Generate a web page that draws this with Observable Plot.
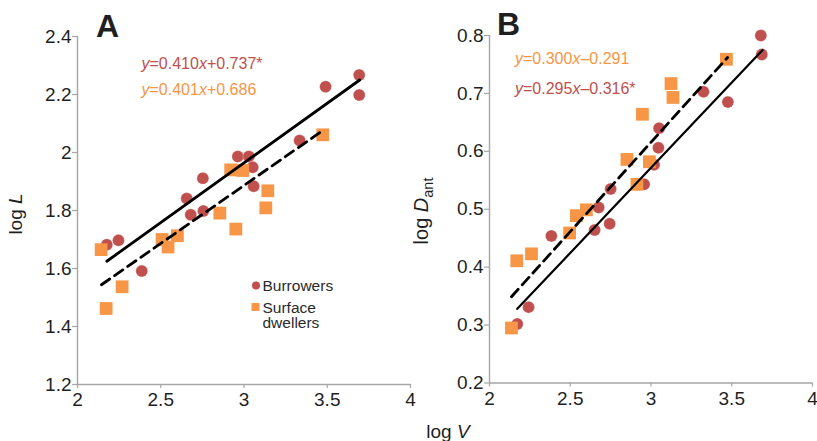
<!DOCTYPE html>
<html>
<head>
<meta charset="utf-8">
<script src="https://cdn.jsdelivr.net/npm/d3@7"></script>
<script src="https://cdn.jsdelivr.net/npm/@observablehq/plot@0.6"></script>
<style>
  html, body { margin: 0; padding: 0; background: #fff; }
  #wrap { position: relative; width: 817px; height: 441px; overflow: hidden; font-family: "Liberation Sans", Arial, sans-serif; }
  #pa, #pb { position: absolute; top: 0; }
  #pa { left: 0; }
  #pb { left: 420px; }
  #ann { position: absolute; left: 0; top: 0; pointer-events: none; }
</style>
</head>
<body>
<div id="wrap">
  <div id="pa"></div>
  <div id="pb"></div>
  <svg id="ann" width="817" height="441" font-family="Liberation Sans, Arial, sans-serif"></svg>
</div>
<script>
// ---------- Panel A data (log V vs log L) ----------
const aBurV = [3.692, 3.490, 3.692, 3.334, 2.963, 3.029, 3.052, 2.753, 3.058, 2.656, 2.680, 2.756, 2.176, 2.246, 2.386];
const aBurL = [2.267, 2.227, 2.198, 2.041, 1.986, 1.986, 1.949, 1.911, 1.884, 1.841, 1.785, 1.798, 1.682, 1.697, 1.591];
const aSurV = [3.473, 2.920, 2.993, 3.143, 3.131, 2.855, 2.951, 2.142, 2.508, 2.544, 2.600, 2.268, 2.172];
const aSurL = [2.061, 1.940, 1.938, 1.868, 1.809, 1.791, 1.736, 1.665, 1.700, 1.674, 1.713, 1.537, 1.462];
const aBurFitV = [2.176, 3.695];
const aBurFitL = [1.625, 2.250];
const aSurFitV = [2.144, 3.479];
const aSurFitL = [1.544, 2.078];
const aTicksX = [2, 2.5, 3, 3.5, 4];
const aTicksY = [1.2, 1.4, 1.6, 1.8, 2, 2.2, 2.4];

// ---------- Panel B data (log V vs log D_ant) ----------
const bBurV = [3.680, 3.686, 3.325, 3.476, 3.050, 3.046, 3.019, 2.957, 2.750, 2.676, 2.651, 2.744, 2.383, 2.242, 2.172];
const bBurD = [0.800, 0.767, 0.703, 0.685, 0.640, 0.606, 0.577, 0.543, 0.535, 0.503, 0.464, 0.475, 0.454, 0.331, 0.302];
const bSurV = [3.467, 3.124, 3.136, 2.947, 2.851, 2.990, 2.913, 2.600, 2.538, 2.496, 2.260, 2.169, 2.136];
const bSurD = [0.759, 0.717, 0.693, 0.664, 0.586, 0.582, 0.543, 0.499, 0.489, 0.459, 0.423, 0.411, 0.295];
const bBurFitV = [2.172, 3.691];
const bBurFitD = [0.328, 0.775];
const bSurFitV = [2.136, 3.474];
const bSurFitD = [0.349, 0.762];
const bTicksX = [2, 2.5, 3, 3.5, 4];
const bTicksY = [0.2, 0.3, 0.4, 0.5, 0.6, 0.7, 0.8];

const RED = "#c0504d", ORANGE = "#f79646", AXIS = "#a6a6a6", INK = "#1f1f1f";
const FONT = "Liberation Sans, Arial, sans-serif";

function panel({width, mL, mR, mT, mB, yDomain, ticksX, ticksY, bur, sur, burFit, surFit, burW, surW}) {
  return Plot.plot({
    width, height: 441,
    marginLeft: mL, marginRight: mR, marginTop: mT, marginBottom: mB,
    x: {domain: [2, 4]},
    y: {domain: yDomain},
    style: {fontFamily: FONT, fontSize: "19px", background: "transparent", color: INK, overflow: "visible"},
    marks: [
      Plot.ruleX([2], {stroke: AXIS, strokeWidth: 1.4}),
      Plot.ruleY([yDomain[0]], {stroke: AXIS, strokeWidth: 1.4}),
      Plot.axisX({ticks: ticksX, tickFormat: d => String(d), tickSize: 4, tickPadding: 4, stroke: AXIS, fill: INK, label: null, strokeWidth: 1.2}),
      Plot.axisY({ticks: ticksY, tickFormat: d => String(d), tickSize: 5, tickPadding: 1, stroke: AXIS, fill: INK, label: null, strokeWidth: 1.2}),
      Plot.dot(bur[0], {x: bur[0], y: bur[1], r: 6, fill: RED, stroke: "#fff", strokeOpacity: 0.35, strokeWidth: 0.8}),
      Plot.dot(sur[0], {x: sur[0], y: sur[1], r: 7.2, symbol: "square", fill: ORANGE}),
      Plot.line(surFit[0], {x: surFit[0], y: surFit[1], stroke: "#000", strokeWidth: surW, strokeDasharray: "10,6"}),
      Plot.line(burFit[0], {x: burFit[0], y: burFit[1], stroke: "#000", strokeWidth: burW})
    ]
  });
}

document.getElementById("pa").append(panel({
  width: 420, mL: 77, mR: 10, mT: 36, mB: 57, yDomain: [1.2, 2.4],
  ticksX: aTicksX, ticksY: aTicksY,
  bur: [aBurV, aBurL], sur: [aSurV, aSurL],
  burFit: [aBurFitV, aBurFitL], surFit: [aSurFitV, aSurFitL], burW: 2.8, surW: 2.8
}));

document.getElementById("pb").append(panel({
  width: 397, mL: 69, mR: 5, mT: 35, mB: 58.5, yDomain: [0.2, 0.8],
  ticksX: bTicksX, ticksY: bTicksY,
  bur: [bBurV, bBurD], sur: [bSurV, bSurD],
  burFit: [bBurFitV, bBurFitD], surFit: [bSurFitV, bSurFitD], burW: 2.2, surW: 2.8
}));

// ---------- Annotations ----------
const ann = document.getElementById("ann");
ann.innerHTML = `
  <text x="96" y="37" font-size="32" font-weight="bold" fill="${INK}">A</text>
  <text x="497" y="35" font-size="32" font-weight="bold" fill="${INK}">B</text>

  <text x="141.5" y="69" font-size="16" fill="${RED}"><tspan font-style="italic">y</tspan>=0.410<tspan font-style="italic">x</tspan>+0.737*</text>
  <text x="141.5" y="94.5" font-size="16" fill="${ORANGE}"><tspan font-style="italic">y</tspan>=0.401<tspan font-style="italic">x</tspan>+0.686</text>

  <text x="515" y="64" font-size="16" fill="${ORANGE}"><tspan font-style="italic">y</tspan>=0.300<tspan font-style="italic">x</tspan>–0.291</text>
  <text x="515" y="94" font-size="16" fill="${RED}"><tspan font-style="italic">y</tspan>=0.295<tspan font-style="italic">x</tspan>–0.316*</text>

  <circle cx="256" cy="285.5" r="4" fill="${RED}"></circle>
  <text x="262.5" y="291" font-size="15.5" fill="#2a2a2a">Burrowers</text>
  <rect x="251.5" y="303" width="8" height="8" fill="${ORANGE}"></rect>
  <text x="262.5" y="312.5" font-size="15.5" fill="#2a2a2a">Surface</text>
  <text x="262.5" y="328" font-size="15.5" fill="#2a2a2a">dwellers</text>

  <text transform="translate(22,214) rotate(-90)" text-anchor="middle" font-size="19" fill="${INK}">log <tspan font-style="italic">L</tspan></text>
  <text transform="translate(428,211) rotate(-90)" text-anchor="middle" font-size="20" fill="${INK}">log <tspan font-style="italic">D</tspan><tspan font-size="14.5" dy="5">ant</tspan></text>
  <text x="448" y="438" text-anchor="middle" font-size="19" fill="${INK}">log <tspan font-style="italic">V</tspan></text>
`;
</script>
</body>
</html>
